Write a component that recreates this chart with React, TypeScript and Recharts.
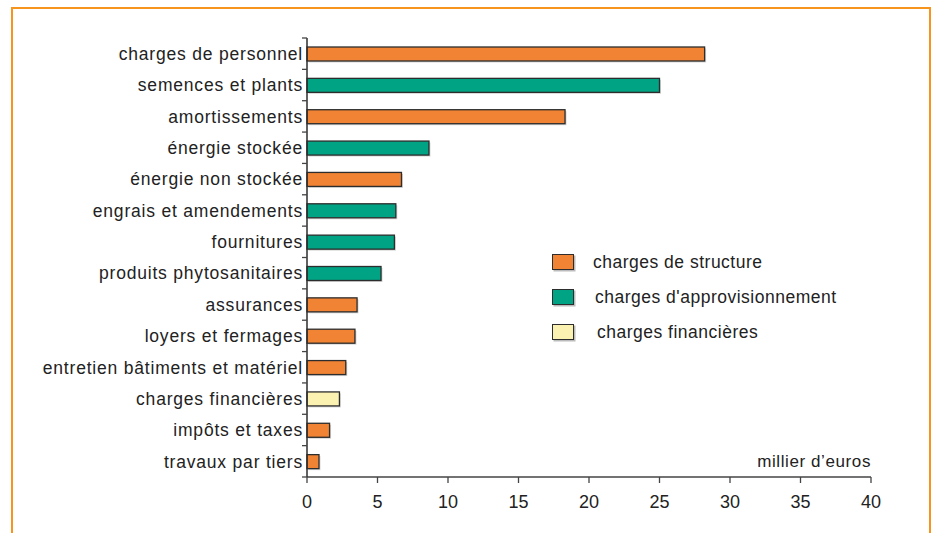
import React from 'react';
import { BarChart, Bar, XAxis, YAxis, Cell } from 'recharts';

const categories = [
  'charges de personnel',
  'semences et plants',
  'amortissements',
  'énergie stockée',
  'énergie non stockée',
  'engrais et amendements',
  'fournitures',
  'produits phytosanitaires',
  'assurances',
  'loyers et fermages',
  'entretien bâtiments et matériel',
  'charges financières',
  'impôts et taxes',
  'travaux par tiers',
];
const values = [28.2, 25.0, 18.3, 8.65, 6.7, 6.3, 6.2, 5.25, 3.55, 3.4, 2.75, 2.3, 1.6, 0.85];
const groupOf = [0, 1, 0, 1, 0, 1, 1, 1, 0, 0, 0, 2, 0, 0];
const groupNames = ['charges de structure', "charges d'approvisionnement", 'charges financières'];
const groupColors = ['#F08334', '#00A383', '#FBF2B2'];
const xTicks = [0, 5, 10, 15, 20, 25, 30, 35, 40];
const unitLabel = 'millier d’euros';

const data = categories.map((name, i) => ({ name, value: values[i], group: groupOf[i] }));

const FONT = 'Liberation Sans, Arial, Helvetica, sans-serif';
const W = 933;
const H = 533;
const M = { top: 38, right: 62, bottom: 0, left: 0 };
const Y_W = 307;
const X_H = 56;
const BAND = (H - M.top - X_H) / categories.length;

const YTick = (props: any) => {
  const { y, payload, index } = props;
  const ax = Y_W;
  return (
    <g>
      <line x1={ax - 5} x2={ax} y1={y - BAND / 2} y2={y - BAND / 2} stroke="#444" strokeWidth={1.3} />
      {index === categories.length - 1 && (
        <line x1={ax - 5} x2={ax} y1={y + BAND / 2} y2={y + BAND / 2} stroke="#444" strokeWidth={1.3} />
      )}
      <text x={ax - 4} y={y} dy="0.36em" textAnchor="end" fill="#222" fontSize={17.5} fontFamily={FONT} style={{ letterSpacing: '0.8px' }}>
        {payload.value}
      </text>
    </g>
  );
};

const BarShape = (props: any) => {
  const { x, y, width, height, fill } = props;
  if (width <= 0) return null;
  return (
    <g>
      <rect x={x + 1.5} y={y + 1.5} width={width} height={height} fill="#bbb" opacity={0.6} />
      <rect x={x} y={y} width={width} height={height} fill={fill} stroke="#2d2d2d" strokeWidth={1.3} />
    </g>
  );
};

const UnitLabel = (props: any) => {
  const vb = props.viewBox || {};
  return (
    <text x={vb.x + vb.width} y={vb.y - 10} textAnchor="end" fill="#222" fontSize={17} fontFamily={FONT} style={{ letterSpacing: '0.6px' }}>
      {unitLabel}
    </text>
  );
};

export default function App() {
  return (
    <div style={{ position: 'absolute', left: 0, top: 0, width: W, height: H, background: '#fff', overflow: 'hidden' }}>
      <div
        style={{
          position: 'absolute',
          left: 11,
          top: 7,
          width: 916,
          height: 600,
          borderTop: '2.5px solid #F7941D',
          borderLeft: '2.5px solid #F7941D',
          borderRight: '2.5px solid #F7941D',
        }}
      />
      <div style={{ position: 'absolute', left: 0, top: 0 }}>
        <BarChart width={W} height={H} data={data} layout="vertical" margin={M} barCategoryGap={0}>
          <XAxis
            type="number"
            domain={[0, 40]}
            ticks={xTicks}
            height={X_H}
            axisLine={{ stroke: '#444', strokeWidth: 1.3 }}
            tickLine={{ stroke: '#444', strokeWidth: 1.3 }}
            tickSize={6}
            tickMargin={12}
            tick={{ fill: '#222', fontSize: 18, fontFamily: FONT }}
            label={{ content: UnitLabel }}
          />
          <YAxis
            type="category"
            dataKey="name"
            width={Y_W}
            axisLine={{ stroke: '#2d2d2d', strokeWidth: 1.5 }}
            tickLine={false}
            tick={YTick}
            interval={0}
          />
          <Bar dataKey="value" barSize={14} isAnimationActive={false} shape={BarShape}>
            {data.map((d, i) => (
              <Cell key={i} fill={groupColors[d.group]} />
            ))}
          </Bar>
        </BarChart>
      </div>
      <div style={{ position: 'absolute', left: 552, top: 253, width: 330, height: 110 }}>
        {groupNames.map((g, i) => (
          <div key={g} style={{ position: 'absolute', left: 0, top: i * 35, height: 18, display: 'flex', alignItems: 'center' }}>
            <div
              style={{
                width: 20,
                height: 14,
                background: groupColors[i],
                border: '1.5px solid #2d2d2d',
                boxShadow: '1.5px 1.5px 0 #bbb',
              }}
            />
            <span
              style={{
                marginLeft: 19 + i * 2,
                fontFamily: FONT,
                fontSize: 17.5,
                color: '#222',
                letterSpacing: '0.5px',
                whiteSpace: 'nowrap',
              }}
            >
              {g}
            </span>
          </div>
        ))}
      </div>
    </div>
  );
}
